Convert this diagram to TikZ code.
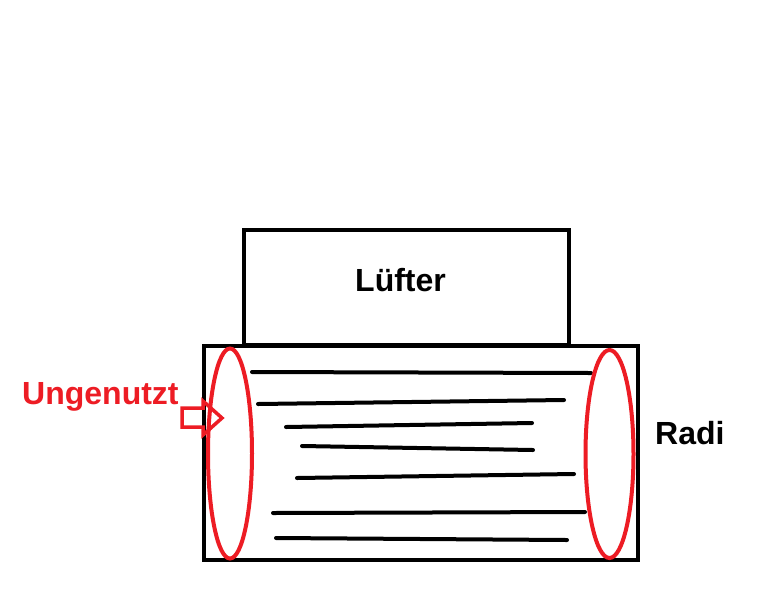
\documentclass[tikz,border=0pt]{standalone}
\usepackage{fontspec}
\setmainfont{Liberation Sans}
\definecolor{paintred}{HTML}{ED1C24}
\tikzset{
  box/.style={draw=black, line width=4pt},
  fin/.style={draw=black, line width=4pt, line cap=round},
  ring/.style={draw=paintred, line width=4pt},
  lbl/.style={font=\fontsize{32}{36}\selectfont\bfseries, inner sep=0pt, anchor=base west},
}
\begin{document}
\begin{tikzpicture}[x=1pt,y=-1pt]
\useasboundingbox (0,0) rectangle (768,614);
\fill[white] (0,0) rectangle (768,614);
% fan box
\draw[box] (244,230) rectangle (569,345);
\node[lbl] (luefter) at (355,291) {Lüfter};
% radiator box
\draw[box] (204,346) rectangle (638,560);
\node[lbl] (radi) at (655,444) {Radi};
% fins
\draw[fin] (252,372) -- (591,373);
\draw[fin] (258,404) -- (564,400);
\draw[fin] (286,427) -- (532,423);
\draw[fin] (302,446) -- (533,450);
\draw[fin] (297,478) -- (574,474);
\draw[fin] (273,513) -- (585,512);
\draw[fin] (276,538) -- (567,540);
% ellipses
\draw[ring] (230,453.5) ellipse [x radius=22, y radius=105];
\draw[ring] (609.5,454) ellipse [x radius=24, y radius=104];
% hollow arrow
\draw[ring, line width=3.5pt, line join=miter]
  (182,408) -- (203,408) -- (203,401) -- (222,418) -- (203,435) -- (203,427) -- (182,427) -- cycle;
\node[lbl, text=paintred] (ungenutzt) at (22,404) {Ungenutzt};
\end{tikzpicture}
\end{document}
